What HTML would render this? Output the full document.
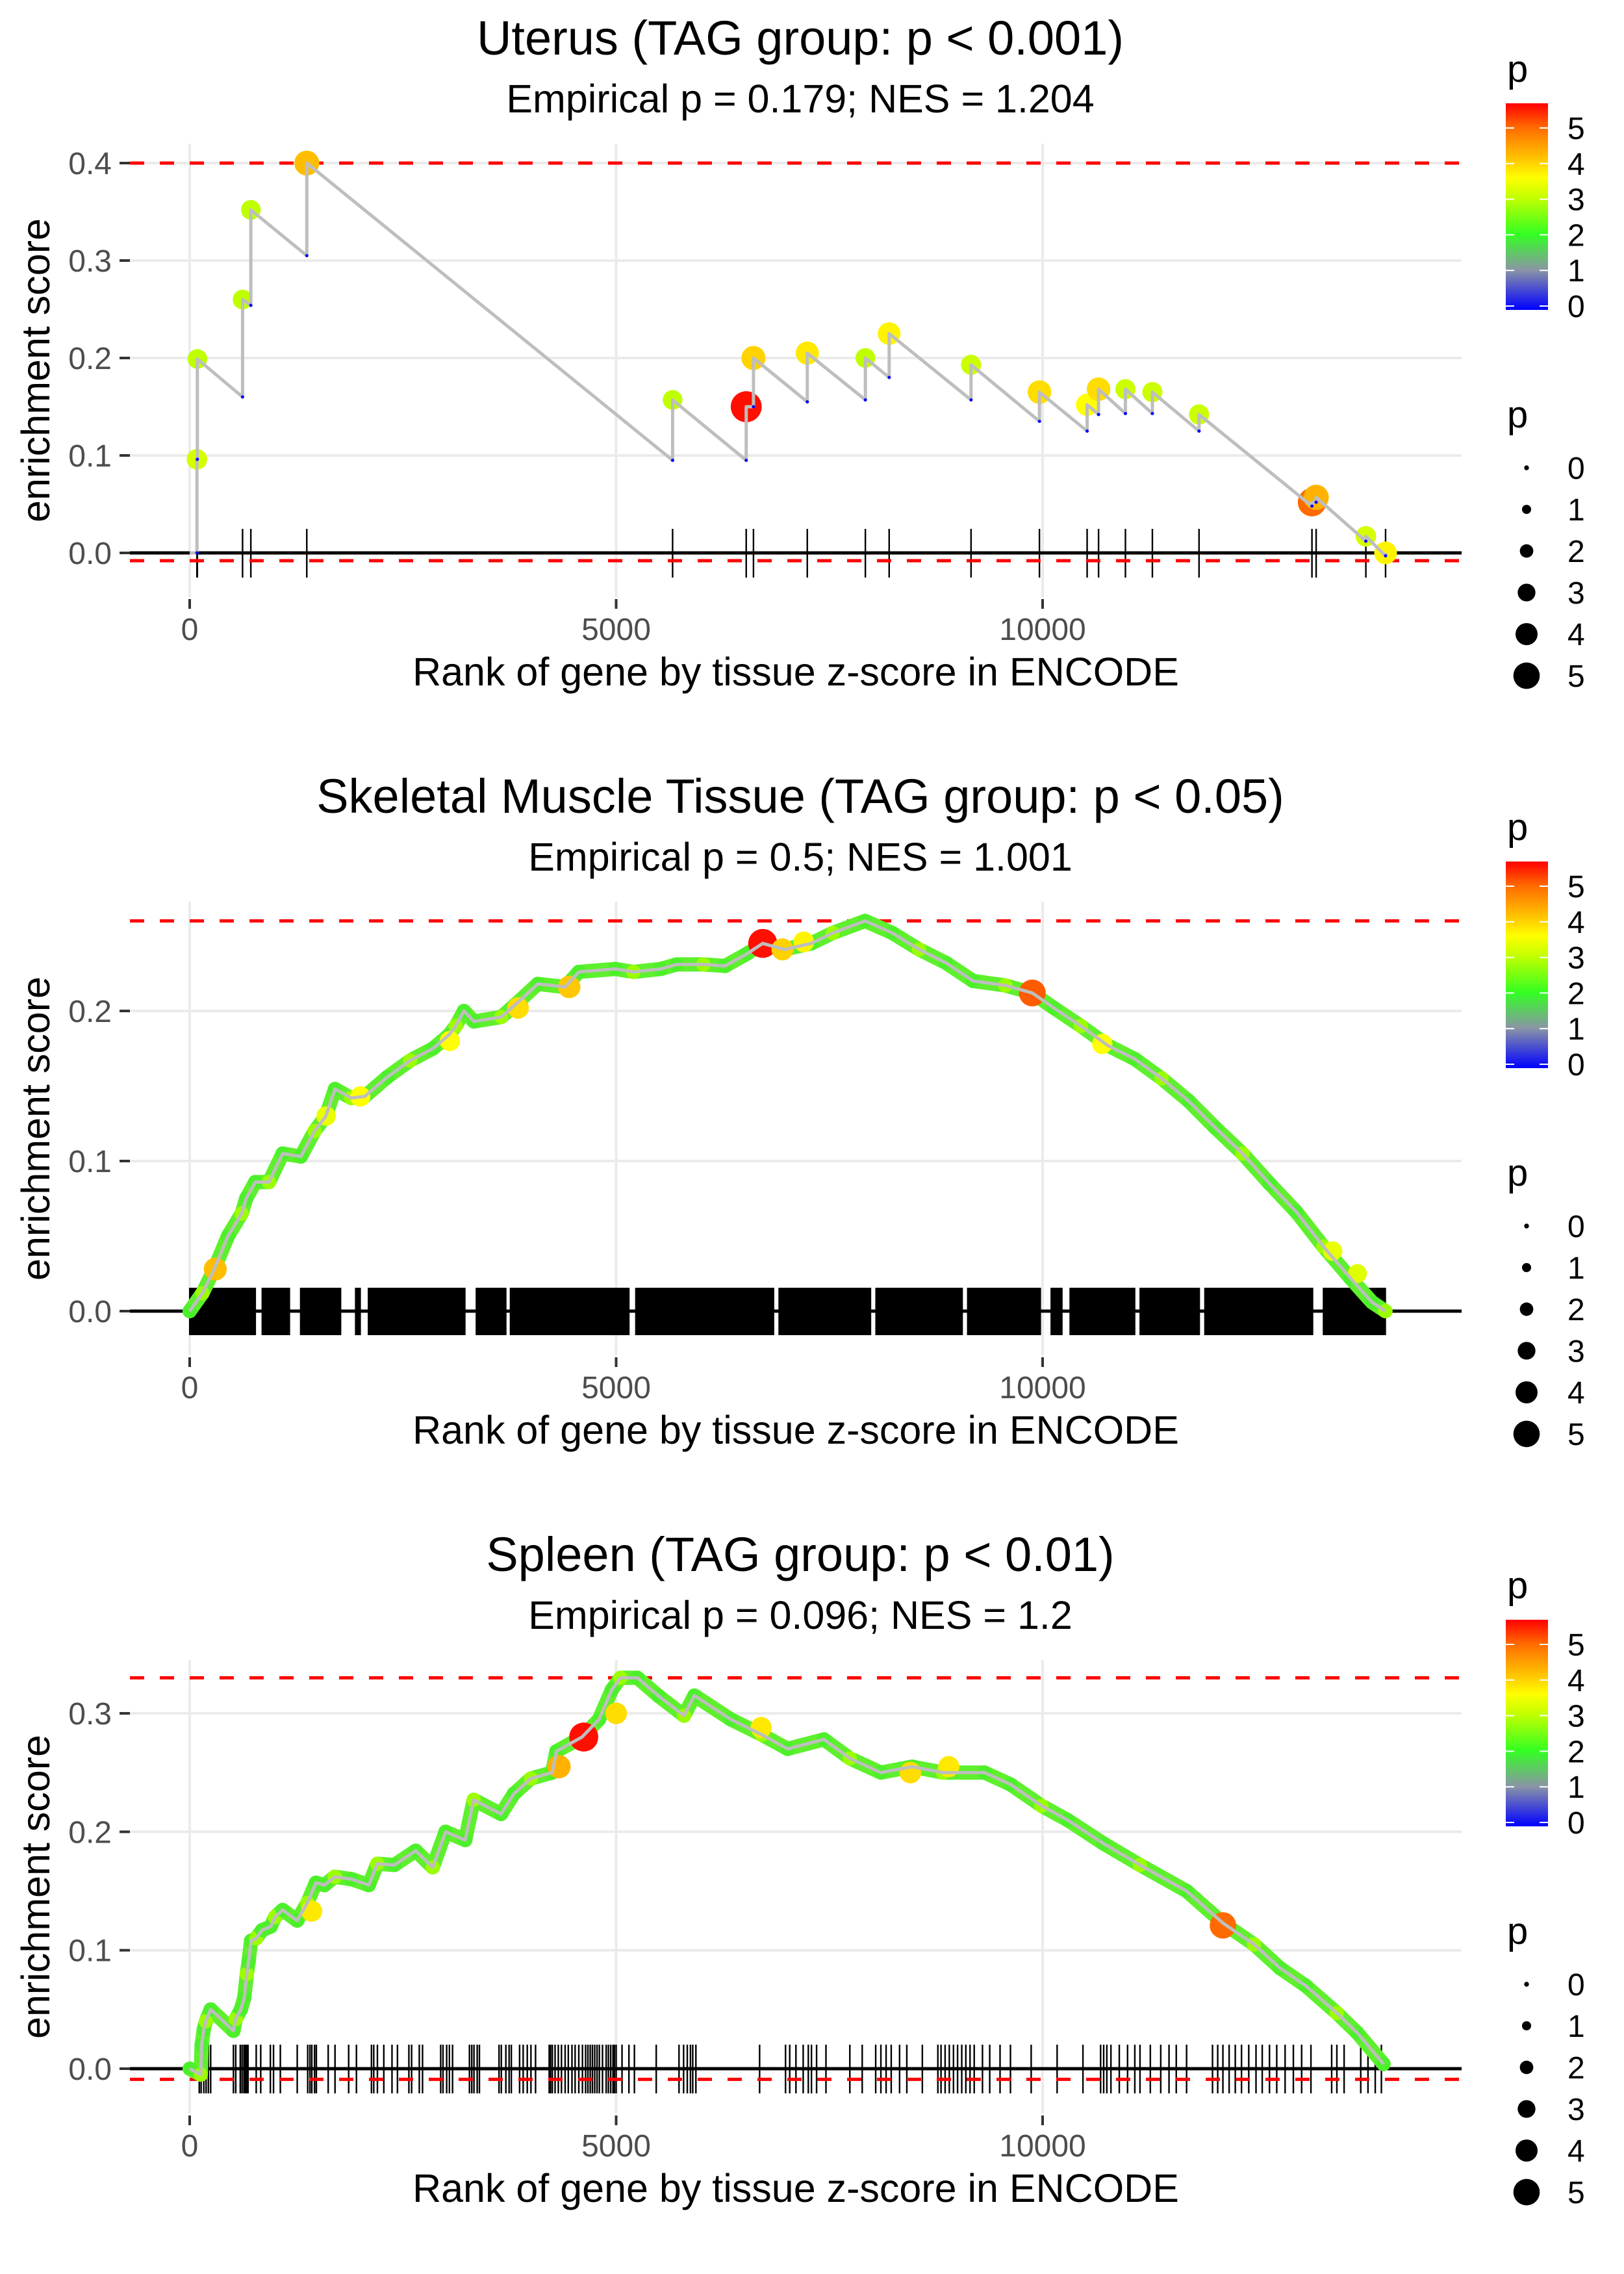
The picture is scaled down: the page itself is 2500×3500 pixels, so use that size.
<!DOCTYPE html>
<html><head><meta charset="utf-8">
<style>
html,body{margin:0;padding:0;background:#fff;}
svg{display:block;font-family:"Liberation Sans",Arial,sans-serif;}
</style></head>
<body>
<svg id="chart" width="2500" height="3500" viewBox="0 0 2500 3500" xmlns="http://www.w3.org/2000/svg">
<defs>
<linearGradient id="pgrad" x1="0" y1="1" x2="0" y2="0">
<stop offset="0" stop-color="#0000ff"/>
<stop offset="0.193" stop-color="#8a94a6"/>
<stop offset="0.366" stop-color="#33ff22"/>
<stop offset="0.54" stop-color="#c0ff00"/>
<stop offset="0.64" stop-color="#ffff00"/>
<stop offset="0.71" stop-color="#ffd200"/>
<stop offset="0.884" stop-color="#ff6a00"/>
<stop offset="1" stop-color="#ff0000"/>
</linearGradient>
</defs>
</svg>
<script>
// ---------- Panel 1: Uterus ----------
const p1HitRanks = [85, 90, 620, 717, 1373, 5662, 6525, 6610, 7241, 7922, 8201, 9161, 9963, 10522, 10656, 10971, 11287, 11834, 13158, 13207, 13790, 14021];
const p1HitES    = [0.096, 0.199, 0.26, 0.352, 0.4, 0.157, 0.15, 0.2, 0.205, 0.2, 0.225, 0.193, 0.165, 0.152, 0.168, 0.168, 0.165, 0.142, 0.052, 0.057, 0.017, 0.0];
const p1PreES    = [0.0, 0.096, 0.16, 0.254, 0.305, 0.095, 0.095, 0.15, 0.155, 0.157, 0.18, 0.157, 0.135, 0.125, 0.142, 0.143, 0.143, 0.125, 0.048, 0.052, 0.012, -0.003];
const p1HitP     = [3.2, 3.0, 3.0, 3.0, 4.2, 3.0, 5.6, 4.0, 3.8, 3.0, 3.7, 3.1, 3.9, 3.6, 3.9, 3.1, 3.1, 3.1, 5.0, 4.3, 3.2, 3.7];
const p1YTicks   = [0, 0.1, 0.2, 0.3, 0.4];
const p1YLabels  = ["0.0", "0.1", "0.2", "0.3", "0.4"];
const p1Dashes   = [0.4, -0.008];

// ---------- Panel 2: Skeletal Muscle ----------
const p2CurveRanks = [0, 150, 288, 449, 609, 662, 769, 930, 1090, 1303, 1464, 1597, 1704, 1891, 2051, 2318, 2585, 2853, 3040, 3120, 3216, 3333, 3654, 3814, 4081, 4402, 4562, 4990, 5203, 5524, 5708, 6024, 6277, 6530, 6719, 6972, 7288, 7540, 7920, 8236, 8552, 8868, 9184, 9563, 9879, 10132, 10448, 10764, 11080, 11396, 11712, 12028, 12344, 12660, 12976, 13292, 13608, 13861, 14019];
const p2CurveES    = [0, 0.012, 0.028, 0.05, 0.065, 0.075, 0.086, 0.086, 0.105, 0.103, 0.12, 0.13, 0.148, 0.142, 0.143, 0.156, 0.167, 0.175, 0.184, 0.19, 0.2, 0.193, 0.196, 0.204, 0.218, 0.216, 0.226, 0.228, 0.226, 0.228, 0.231, 0.231, 0.23, 0.238, 0.245, 0.241, 0.245, 0.252, 0.26, 0.252, 0.241, 0.232, 0.22, 0.217, 0.212, 0.202, 0.19, 0.177, 0.168, 0.155, 0.14, 0.122, 0.105, 0.085, 0.066, 0.043, 0.022, 0.006, 0.0];
const p2HiRanks = [300, 1600, 2000, 3050, 3850, 4450, 6719, 6950, 7200, 9879, 10700, 13400, 13690];
const p2HiES    = [0.028, 0.13, 0.143, 0.18, 0.202, 0.216, 0.245, 0.241, 0.246, 0.212, 0.178, 0.04, 0.025];
const p2HiP     = [4.2, 3.4, 3.6, 3.6, 3.9, 4.1, 5.6, 4.0, 3.7, 5.1, 3.6, 3.4, 3.3];
const p2RugStart = [0, 850, 1300, 1945, 2095, 3360, 3760, 5230, 6910, 8046, 9121, 10100, 10322, 11143, 11902, 13292];
const p2RugEnd   = [770, 1170, 1770, 2000, 3227, 3707, 5150, 6846, 7983, 9058, 9974, 10227, 11080, 11838, 13166, 14019];
const p2YTicks   = [0, 0.1, 0.2];
const p2YLabels  = ["0.0", "0.1", "0.2"];
const p2Dashes   = [0.26];

// ---------- Panel 3: Spleen ----------
const p3CurveRanks = [0, 130, 140, 165, 190, 246, 513, 540, 600, 640, 670, 690, 720, 780, 850, 950, 1000, 1090, 1260, 1380, 1480, 1580, 1700, 1900, 2100, 2200, 2400, 2650, 2850, 3000, 3230, 3330, 3650, 3800, 4000, 4250, 4300, 4600, 4800, 4950, 5050, 5249, 5492, 5796, 5917, 6342, 6707, 7010, 7436, 7740, 8104, 8469, 8833, 9319, 9623, 9987, 10291, 10716, 11141, 11688, 12114, 12478, 12782, 13085, 13450, 13693, 13997];
const p3CurveES    = [0, -0.005, 0.02, 0.033, 0.04, 0.05, 0.032, 0.042, 0.05, 0.06, 0.08, 0.09, 0.108, 0.11, 0.117, 0.12, 0.128, 0.134, 0.125, 0.14, 0.157, 0.155, 0.162, 0.16, 0.155, 0.173, 0.172, 0.184, 0.17, 0.2, 0.193, 0.227, 0.215, 0.232, 0.245, 0.25, 0.268, 0.28, 0.295, 0.32, 0.33, 0.33, 0.315, 0.298, 0.315, 0.295, 0.282, 0.27, 0.278, 0.262, 0.25, 0.255, 0.25, 0.25, 0.24, 0.222, 0.21, 0.19, 0.172, 0.15, 0.123, 0.105, 0.085, 0.07, 0.047, 0.03, 0.004];
const p3HiRanks = [1430, 4330, 4620, 5000, 6700, 8450, 8900, 12114];
const p3HiES    = [0.133, 0.255, 0.28, 0.3, 0.288, 0.25, 0.255, 0.121];
const p3HiP     = [3.8, 4.3, 5.6, 3.9, 3.8, 3.9, 3.8, 5.0];
const p3RugRanks = [112,134,166,192,219,246,513,540,593,614,636,652,668,684,780,833,946,983,1063,1261,1384,1410,1432,1464,1485,1624,1704,1864,1955,2131,2158,2201,2276,2372,2436,2570,2602,2692,2730,2943,2970,3013,3045,3082,3280,3307,3333,3371,3397,3627,3654,3707,3745,3771,3868,3910,3958,4001,4055,4215,4231,4252,4284,4322,4359,4402,4439,4482,4519,4562,4605,4642,4669,4696,4722,4749,4776,4803,4840,4883,4909,4936,4963,4979,5000,5069,5150,5214,5470,5737,5791,5834,5871,5898,5935,6682,6986,7035,7108,7193,7253,7290,7350,7460,7740,7885,8043,8104,8165,8225,8323,8408,8590,8772,8809,8857,8906,8955,9003,9052,9100,9149,9198,9295,9380,9501,9623,9866,10170,10473,10680,10716,10753,10801,10899,10996,11081,11142,11263,11385,11482,11567,11688,11992,12053,12114,12187,12259,12332,12417,12502,12575,12660,12745,12843,12940,13037,13146,13389,13450,13535,13730,13815,13900,13972];
const p3YTicks   = [0, 0.1, 0.2, 0.3];
const p3YLabels  = ["0.0", "0.1", "0.2", "0.3"];
const p3Dashes   = [0.33, -0.009];

const xTicks = [0, 5000, 10000];
const xLabels = ["0", "5000", "10000"];
const legendColorVals = [0, 1, 2, 3, 4, 5];
const legendSizeVals = [0, 1, 2, 3, 4, 5];

const svg = document.getElementById('chart');
const NS = 'http://www.w3.org/2000/svg';
function mk(tag, attrs, parent) {
  const e = document.createElementNS(NS, tag);
  for (const k in attrs) e.setAttribute(k, attrs[k]);
  (parent || svg).appendChild(e);
  return e;
}
const cStops = [[0,[0,0,255]],[1,[138,148,166]],[2,[51,255,34]],[3,[192,255,0]],[3.6,[255,255,0]],[4,[255,210,0]],[5,[255,106,0]],[5.7,[255,0,0]]];
function pColor(p) {
  if (p <= 0) return 'rgb(0,0,255)';
  for (let i = 1; i < cStops.length; i++) {
    if (p <= cStops[i][0]) {
      const a = cStops[i-1], b = cStops[i], t = (p - a[0]) / (b[0] - a[0]);
      const c = a[1].map((v, j) => Math.round(v + (b[1][j] - v) * t));
      return 'rgb(' + c.join(',') + ')';
    }
  }
  return 'rgb(255,0,0)';
}
function pDiam(p) { return 7.4 + 6.65 * p; }
const xScale = v => 292 + v * 0.1313;
const PL = 200, PR = 2250;

function panel(cfg) {
  const g = mk('g', {});
  
  
  const y = v => cfg.zero - v * cfg.per01 * 10;
  cfg.yTicks.forEach(t => {
    const l = mk('line', {x1: PL, x2: PR, y1: y(t), y2: y(t), stroke: '#ebebeb', 'stroke-width': 4}, g);
    
    
  });
  xTicks.forEach(t => {
    const l = mk('line', {x1: xScale(t), x2: xScale(t), y1: cfg.top, y2: cfg.bottom, stroke: '#ebebeb', 'stroke-width': 4}, g);
    
    
  });
  const rug = mk('g', {}, g);
  
  
  if (cfg.rugStart) {
    cfg.rugStart.forEach((s, i) => {
      const r = mk('rect', {x: xScale(s) - 1, y: cfg.zero - 36, width: Math.max(2.5, xScale(cfg.rugEnd[i]) - xScale(s) + 2), height: 73, fill: '#000'}, rug);
      
      
    });
  } else {
    cfg.rugRanks.forEach(rk => {
      const l = mk('line', {x1: xScale(rk), x2: xScale(rk), y1: cfg.zero - 37, y2: cfg.zero + 38, stroke: '#000', 'stroke-width': 2.4}, rug);
      
      
    });
  }
  const zl = mk('line', {x1: PL, x2: PR, y1: cfg.zero, y2: cfg.zero, stroke: '#000', 'stroke-width': 5}, g);
  
  
  cfg.dashes.forEach(d => {
    const l = mk('line', {x1: PL, x2: PR, y1: y(d), y2: y(d), stroke: '#ff0000', 'stroke-width': 5, 'stroke-dasharray': '22 24'}, g);
    
    
  });
  let pts = [];
  if (cfg.hitRanks) {
    pts.push([xScale(0), y(0)]);
    cfg.hitRanks.forEach((r, i) => { pts.push([xScale(r), y(cfg.preES[i])]); pts.push([xScale(r), y(cfg.hitES[i])]); });
    cfg.hitRanks.forEach((r, i) => {
      const c = mk('circle', {cx: xScale(r), cy: y(cfg.hitES[i]), r: pDiam(cfg.hitP[i]) / 2 + 1.5, fill: pColor(cfg.hitP[i])}, g);
      
      
    });
  } else {
    cfg.curveRanks.forEach((r, i) => pts.push([xScale(r), y(cfg.curveES[i])]));
    const chain = mk('polyline', {points: pts.map(p => p.join(',')).join(' '), fill: 'none', stroke: '#5ef02c', 'stroke-width': 22, 'stroke-linejoin': 'round', 'stroke-linecap': 'round'}, g);
    
    
    cfg.curveRanks.forEach((r, i) => {
      const c = mk('circle', {cx: xScale(r), cy: y(cfg.curveES[i]), r: pDiam(2.2) / 2, fill: i % 3 === 1 ? '#9cff00' : '#4cf02a'}, g);
      
      
    });
    cfg.hiRanks.forEach((r, i) => {
      const c = mk('circle', {cx: xScale(r), cy: y(cfg.hiES[i]), r: pDiam(cfg.hiP[i]) / 2, fill: pColor(cfg.hiP[i])}, g);
      
      
    });
  }
  const ln = mk('polyline', {points: pts.map(p => p.join(',')).join(' '), fill: 'none', stroke: '#bebebe', 'stroke-width': 5, 'stroke-linejoin': 'round'}, g);
  
  
  if (cfg.hitRanks) {
    cfg.hitRanks.forEach((r, i) => {
      const c = mk('circle', {cx: xScale(r), cy: y(cfg.preES[i]), r: 2.5, fill: '#0000ff'}, g);
      
      
    });
  }
  cfg.yTicks.forEach((t, i) => {
    const tk = mk('line', {x1: 184, x2: 200, y1: y(t), y2: y(t), stroke: '#333', 'stroke-width': 4}, g);
    
    
    const tx = mk('text', {x: 172, y: y(t) + 17, 'text-anchor': 'end', 'font-size': 48, fill: '#4d4d4d'}, g);
    tx.textContent = cfg.yLabels[i];
    
    
  });
  xTicks.forEach((t, i) => {
    const tk = mk('line', {x1: xScale(t), x2: xScale(t), y1: cfg.bottom + 3, y2: cfg.bottom + 18, stroke: '#333', 'stroke-width': 4}, g);
    
    
    const tx = mk('text', {x: xScale(t), y: cfg.bottom + 66, 'text-anchor': 'middle', 'font-size': 48, fill: '#4d4d4d'}, g);
    tx.textContent = xLabels[i];
    
    
  });
  const yt = mk('text', {x: 0, y: 0, 'text-anchor': 'middle', 'font-size': 61, fill: '#000', transform: 'translate(76,' + ((cfg.top + cfg.bottom) / 2) + ') rotate(-90)'}, g);
  yt.textContent = 'enrichment score';
  
  
  const xt = mk('text', {x: 1225, y: cfg.bottom + 136, 'text-anchor': 'middle', 'font-size': 61, fill: '#000'}, g);
  xt.textContent = 'Rank of gene by tissue z-score in ENCODE';
  
  
  const ti = mk('text', {x: 1232, y: cfg.top - 137, 'text-anchor': 'middle', 'font-size': 74, fill: '#000'}, g);
  ti.textContent = cfg.title;
  
  
  const st = mk('text', {x: 1232, y: cfg.top - 48, 'text-anchor': 'middle', 'font-size': 61, fill: '#000'}, g);
  st.textContent = cfg.subtitle;
  
  
  const off = cfg.off;
  const lg = mk('g', {}, g);
  
  
  const lt = mk('text', {x: 2320, y: 126 + off, 'font-size': 58, fill: '#000'}, lg);
  lt.textContent = 'p';
  
  
  const bar = mk('rect', {x: 2318, y: 159 + off, width: 65, height: 318, fill: 'url(#pgrad)'}, lg);
  
  
  legendColorVals.forEach(v => {
    const yy = 471 + off - v * 54.8;
    mk('line', {x1: 2318, x2: 2331, y1: yy, y2: yy, stroke: '#fff', 'stroke-width': 2}, lg);
    mk('line', {x1: 2370, x2: 2383, y1: yy, y2: yy, stroke: '#fff', 'stroke-width': 2}, lg);
    const tx = mk('text', {x: 2413, y: yy + 17, 'font-size': 48, fill: '#000'}, lg);
    tx.textContent = String(v);
    
    
  });
  const sg = mk('g', {}, g);
  
  
  const st2 = mk('text', {x: 2320, y: 658 + off, 'font-size': 58, fill: '#000'}, sg);
  st2.textContent = 'p';
  
  
  legendSizeVals.forEach((v, i) => {
    const yy = 720 + off + i * 64;
    const c = mk('circle', {cx: 2350, cy: yy, r: pDiam(v) / 2, fill: '#000'}, sg);
    
    
    const tx = mk('text', {x: 2413, y: yy + 17, 'font-size': 48, fill: '#000'}, sg);
    tx.textContent = String(v);
    
    
  });
}

panel({name: 'uterus-panel', off: 0, top: 221, bottom: 919, zero: 851, per01: 150,
  yTicks: p1YTicks, yLabels: p1YLabels, dashes: p1Dashes,
  hitRanks: p1HitRanks, hitES: p1HitES, preES: p1PreES, hitP: p1HitP, rugRanks: p1HitRanks,
  title: 'Uterus (TAG group: p < 0.001)', subtitle: 'Empirical p = 0.179; NES = 1.204'});
panel({name: 'skeletal-muscle-panel', off: 1167, top: 1388, bottom: 2086, zero: 2018, per01: 231,
  yTicks: p2YTicks, yLabels: p2YLabels, dashes: p2Dashes,
  curveRanks: p2CurveRanks, curveES: p2CurveES, hiRanks: p2HiRanks, hiES: p2HiES, hiP: p2HiP,
  rugStart: p2RugStart, rugEnd: p2RugEnd,
  title: 'Skeletal Muscle Tissue (TAG group: p < 0.05)', subtitle: 'Empirical p = 0.5; NES = 1.001'});
panel({name: 'spleen-panel', off: 2334, top: 2555, bottom: 3253, zero: 3184, per01: 182.3,
  yTicks: p3YTicks, yLabels: p3YLabels, dashes: p3Dashes,
  curveRanks: p3CurveRanks, curveES: p3CurveES, hiRanks: p3HiRanks, hiES: p3HiES, hiP: p3HiP,
  rugRanks: p3RugRanks,
  title: 'Spleen (TAG group: p < 0.01)', subtitle: 'Empirical p = 0.096; NES = 1.2'});
</script>
</body></html>
